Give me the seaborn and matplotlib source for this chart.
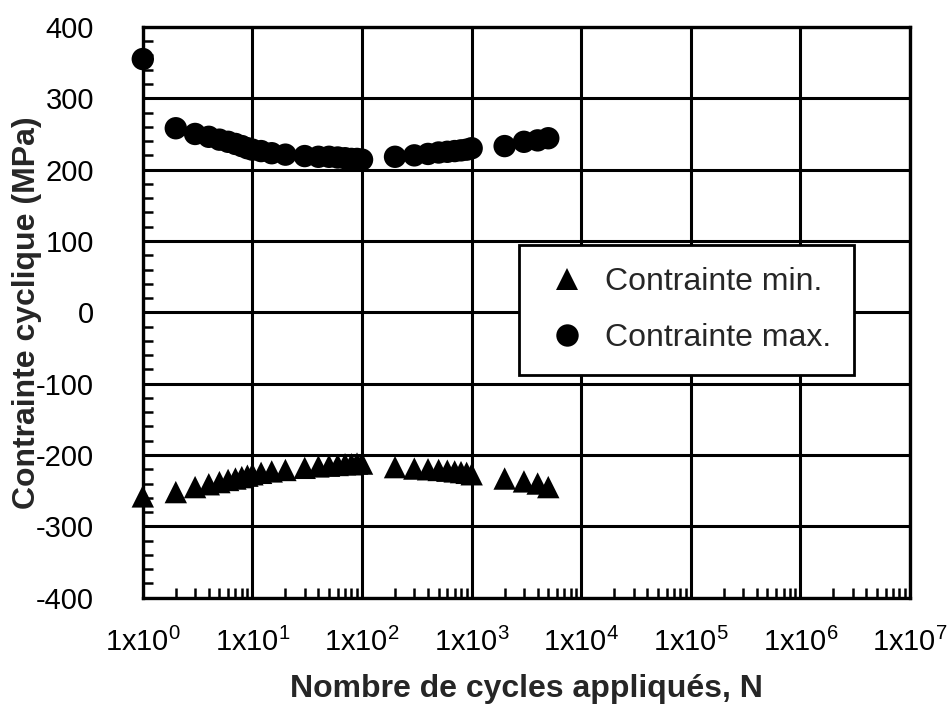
import numpy as np
import pandas as pd
import seaborn as sns
import matplotlib
matplotlib.use("Agg")
import matplotlib.pyplot as plt
from matplotlib.ticker import LogLocator, FixedLocator, MultipleLocator, NullFormatter

cycles = [1, 2, 3, 4, 5, 6, 7, 8, 9, 10, 12, 15, 20, 30, 40, 50, 60, 70, 80, 90, 100,
          200, 300, 400, 500, 600, 700, 800, 900, 1000, 2000, 3000, 4000, 5000]
stress_max = [355, 258, 250, 246, 242, 239, 236, 233, 230, 228, 226, 223, 221, 219, 218, 218,
              217, 216, 215, 215, 214, 218, 220, 222, 224, 225, 226, 227, 228, 230, 233, 239, 241, 244]
stress_min = [-258, -252, -245, -241, -238, -235, -233, -231, -229, -227, -225, -223, -221, -218,
              -216, -215, -214, -213, -213, -212, -212, -217, -219, -220, -221, -222, -223, -224,
              -225, -227, -233, -237, -240, -245]
series_names = ["Contrainte min.", "Contrainte max."]
x_ticks = [1e0, 1e1, 1e2, 1e3, 1e4, 1e5, 1e6, 1e7]
x_tick_labels = [r"1x10$^{0}$", r"1x10$^{1}$", r"1x10$^{2}$", r"1x10$^{3}$",
                 r"1x10$^{4}$", r"1x10$^{5}$", r"1x10$^{6}$", r"1x10$^{7}$"]
y_ticks = [-400, -300, -200, -100, 0, 100, 200, 300, 400]

df = pd.DataFrame({
    "N": cycles * 2,
    "Contrainte": stress_min + stress_max,
    "Série": [series_names[0]] * len(cycles) + [series_names[1]] * len(cycles),
})

sns.set_theme(style="white")
plt.rcParams["font.family"] = ["Liberation Sans", "DejaVu Sans"]
plt.rcParams["mathtext.fontset"] = "custom"
plt.rcParams["mathtext.rm"] = "Liberation Sans"
plt.rcParams["mathtext.it"] = "Liberation Sans"

fig = plt.figure(figsize=(9.52, 7.09), dpi=100)
ax = fig.add_axes([0.150, 0.157, 0.806, 0.805])

MS = 260
sns.scatterplot(data=df, x="N", y="Contrainte", style="Série", hue="Série",
                palette={series_names[0]: "black", series_names[1]: "black"},
                markers={series_names[0]: "^", series_names[1]: "o"},
                s=MS, edgecolor="black", linewidth=0, ax=ax, clip_on=False, zorder=5)

ax.set_xscale("log")
ax.set_xlim(1, 1e7)
ax.set_ylim(-400, 400)

ax.xaxis.set_major_locator(FixedLocator(x_ticks))
ax.set_xticklabels(x_tick_labels)
ax.xaxis.set_minor_locator(LogLocator(base=10, subs=np.arange(2, 10)))
ax.xaxis.set_minor_formatter(NullFormatter())
ax.yaxis.set_major_locator(FixedLocator(y_ticks))
ax.set_yticklabels([str(v) for v in y_ticks])
ax.yaxis.set_minor_locator(MultipleLocator(20))

ax.grid(True, which="major", color="black", linewidth=2.2)
ax.set_axisbelow(True)
for sp in ax.spines.values():
    sp.set_color("black")
    sp.set_linewidth(2.4)

ax.tick_params(axis="both", which="major", length=0, labelsize=21, colors="black")
ax.tick_params(axis="x", which="major", pad=22)
ax.tick_params(axis="y", which="major", pad=35)
ax.tick_params(axis="both", which="minor", direction="in", length=7, width=1.8, color="black",
               bottom=True, left=True)

ax.set_xlabel("Nombre de cycles appliqués, N", fontsize=23, fontweight="bold", labelpad=12)
ax.set_ylabel("Contrainte cyclique (MPa)", fontsize=23, fontweight="bold", labelpad=-4)

leg = ax.legend(loc="lower left", bbox_to_anchor=(0.49, 0.39), fontsize=23, frameon=True,
                fancybox=False, edgecolor="black", framealpha=1, markerscale=1.0,
                handletextpad=0.4, handlelength=1.6, labelspacing=0.8, borderpad=0.7,
                borderaxespad=0, title=None)
leg.get_frame().set_linewidth(2)
for h in leg.legend_handles:
    try:
        h.set_sizes([MS])
    except Exception:
        pass

fig.savefig("out.png", dpi=100)
